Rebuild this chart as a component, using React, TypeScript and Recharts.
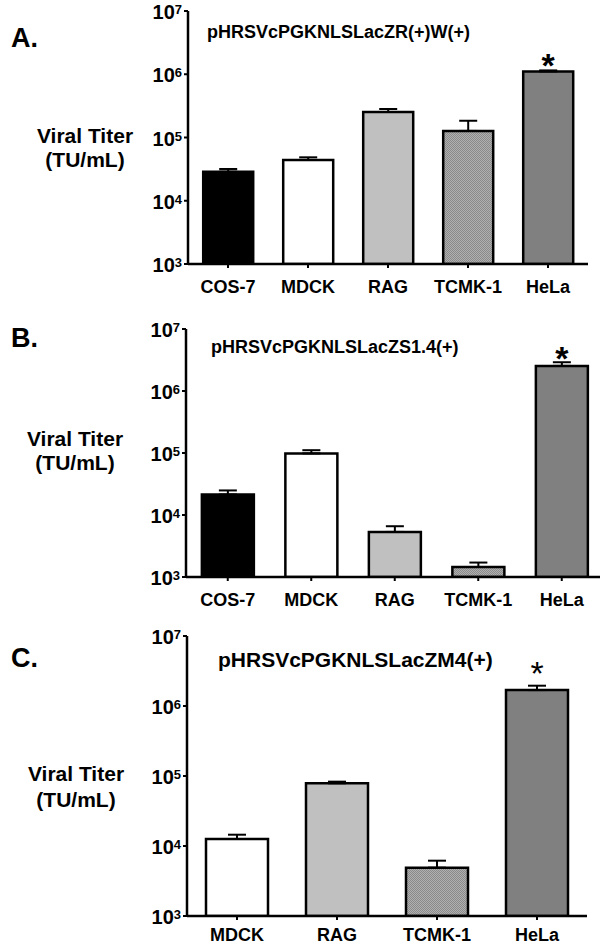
import React from "react"
import { BarChart, Bar, XAxis, YAxis, Cell, ErrorBar, LabelList } from "recharts"

const FONT = '"Liberation Sans", Arial, Helvetica, sans-serif'

// panel A: pHRSVcPGKNLSLacZR(+)W(+)
const cellsA = ["COS-7", "MDCK", "RAG", "TCMK-1", "HeLa"]
const titerA = [28800, 44100, 253000, 127000, 1110000]
const upperA = [31800, 48600, 282000, 184000, 1150000]
const starsA = ["", "", "", "", "*"]

// panel B: pHRSVcPGKNLSLacZS1.4(+)
const cellsB = ["COS-7", "MDCK", "RAG", "TCMK-1", "HeLa"]
const titerB = [21400, 98500, 5330, 1450, 2540000]
const upperB = [24900, 111000, 6590, 1710, 2910000]
const starsB = ["", "", "", "", "*"]

// panel C: pHRSVcPGKNLSLacZM4(+)
const cellsC = ["MDCK", "RAG", "TCMK-1", "HeLa"]
const titerC = [12600, 78700, 4900, 1690000]
const upperC = [14500, 83000, 6170, 1950000]
const starsC = ["", "", "", "*"]

const yTicks = [1e3, 1e4, 1e5, 1e6, 1e7]

const fills: Record<string, string> = {
  "COS-7": "#000000",
  MDCK: "#ffffff",
  RAG: "#c0c0c0",
  HeLa: "#808080",
}

function PowTick({ x, y, payload }: any) {
  const exp = Math.round(Math.log10(payload.value))
  return (
    <text x={x} y={y} textAnchor="end" fontFamily={FONT} fontWeight="bold" fill="#000">
      <tspan style={{ fontSize: 20 }} dy={8}>10</tspan>
      <tspan style={{ fontSize: 13 }} dy={-5}>{exp}</tspan>
    </text>
  )
}

function Panel(p: any) {
  const data = p.cells.map((name: string, i: number) => ({
    name,
    titer: p.titer[i],
    err: [0, p.upper[i] - p.titer[i]],
    star: p.stars[i],
  }))
  const patId = "dots" + p.letter

  const starLabel = (props: any) => {
    const { x, y, width, value } = props
    if (!value) return null
    return (
      <text x={x + width / 2} y={y + p.starDy} textAnchor="middle" fontFamily={FONT}
        fontSize={p.starSize} fontWeight={p.starWeight} fill="#000">{value}</text>
    )
  }

  return (
    <div style={{ position: "absolute", left: 0, top: p.top }}>
      <BarChart width={p.width} height={p.height} data={data} margin={p.margin} barCategoryGap="19%">
        <defs>
          <pattern id={patId} width="2" height="2" patternUnits="userSpaceOnUse">
            <rect width="2" height="2" fill="#b0b0b0" />
            <rect width="1" height="1" fill="#8a8a8a" />
            <rect x="1" y="1" width="1" height="1" fill="#8a8a8a" />
          </pattern>
        </defs>
        <XAxis dataKey="name" interval={0} height={p.xHeight} tickSize={4} tickMargin={p.xTickMargin}
          axisLine={{ stroke: "#000", strokeWidth: 2.5 }} tickLine={{ stroke: "#000", strokeWidth: 2 }}
          tick={{ fontSize: 18, fontWeight: "bold", fill: "#000", fontFamily: FONT }} />
        <YAxis type="number" scale="log" domain={[1e3, 1e7]} ticks={yTicks} allowDataOverflow
          width={p.yWidth} tickSize={4} tickMargin={2} tick={<PowTick />}
          axisLine={{ stroke: "#000", strokeWidth: 2.5 }} tickLine={{ stroke: "#000", strokeWidth: 2 }} />
        <Bar dataKey="titer" stroke="#000" strokeWidth={2.5} isAnimationActive={false}>
          {data.map((d: any, i: number) => (
            <Cell key={i} fill={fills[d.name] ?? `url(#${patId})`} />
          ))}
          <ErrorBar dataKey="err" width={9} stroke="#000" strokeWidth={2} direction="y" isAnimationActive={false} />
          <LabelList dataKey="star" content={starLabel} />
        </Bar>
      </BarChart>
      <svg width={600} height={p.height} style={{ position: "absolute", left: 0, top: 0, pointerEvents: "none" }}>
        <text x={11} y={47} fontFamily={FONT} fontWeight="bold" fontSize={27} fill="#000">{p.letter}.</text>
        <text x={p.titleX} y={p.titleY} fontFamily={FONT} fontWeight="bold" fontSize={p.titleSize} fill="#000">{p.title}</text>
        <text x={p.labelX} y={p.labelY} textAnchor="middle" fontFamily={FONT} fontWeight="bold" fontSize={21} fill="#000">
          <tspan x={p.labelX}>Viral Titer</tspan>
          <tspan x={p.labelX} dy={p.labelGap}>(TU/mL)</tspan>
        </text>
      </svg>
    </div>
  )
}

export default function App() {
  return (
    <div style={{ position: "absolute", left: 0, top: 0, width: 600, height: 949, overflow: "hidden", background: "#fff" }}>
      <Panel letter="A" title="pHRSVcPGKNLSLacZR(+)W(+)" cells={cellsA} titer={titerA} upper={upperA} stars={starsA}
        top={0} width={600} height={310} margin={{ top: 11, right: 12, bottom: 6, left: 0 }}
        yWidth={188} xHeight={40} xTickMargin={12}
        titleX={207} titleY={38} titleSize={18} labelX={85} labelY={143} labelGap={24}
        starDy={6} starSize={34} starWeight="bold" />
      <Panel letter="B" title="pHRSVcPGKNLSLacZS1.4(+)" cells={cellsB} titer={titerB} upper={upperB} stars={starsB}
        top={300} width={610} height={320} margin={{ top: 29, right: 6.5, bottom: 3, left: 0 }}
        yWidth={186} xHeight={40} xTickMargin={12}
        titleX={211} titleY={53} titleSize={18} labelX={75} labelY={146} labelGap={24}
        starDy={4} starSize={34} starWeight="bold" />
      <Panel letter="C" title="pHRSVcPGKNLSLacZM4(+)" cells={cellsC} titer={titerC} upper={upperC} stars={starsC}
        top={620} width={600} height={329} margin={{ top: 16, right: 13, bottom: 3, left: 0 }}
        yWidth={187} xHeight={30} xTickMargin={8}
        titleX={218} titleY={47} titleSize={21} labelX={76} labelY={161} labelGap={26}
        starDy={-5} starSize={34} starWeight="normal" />
    </div>
  )
}
